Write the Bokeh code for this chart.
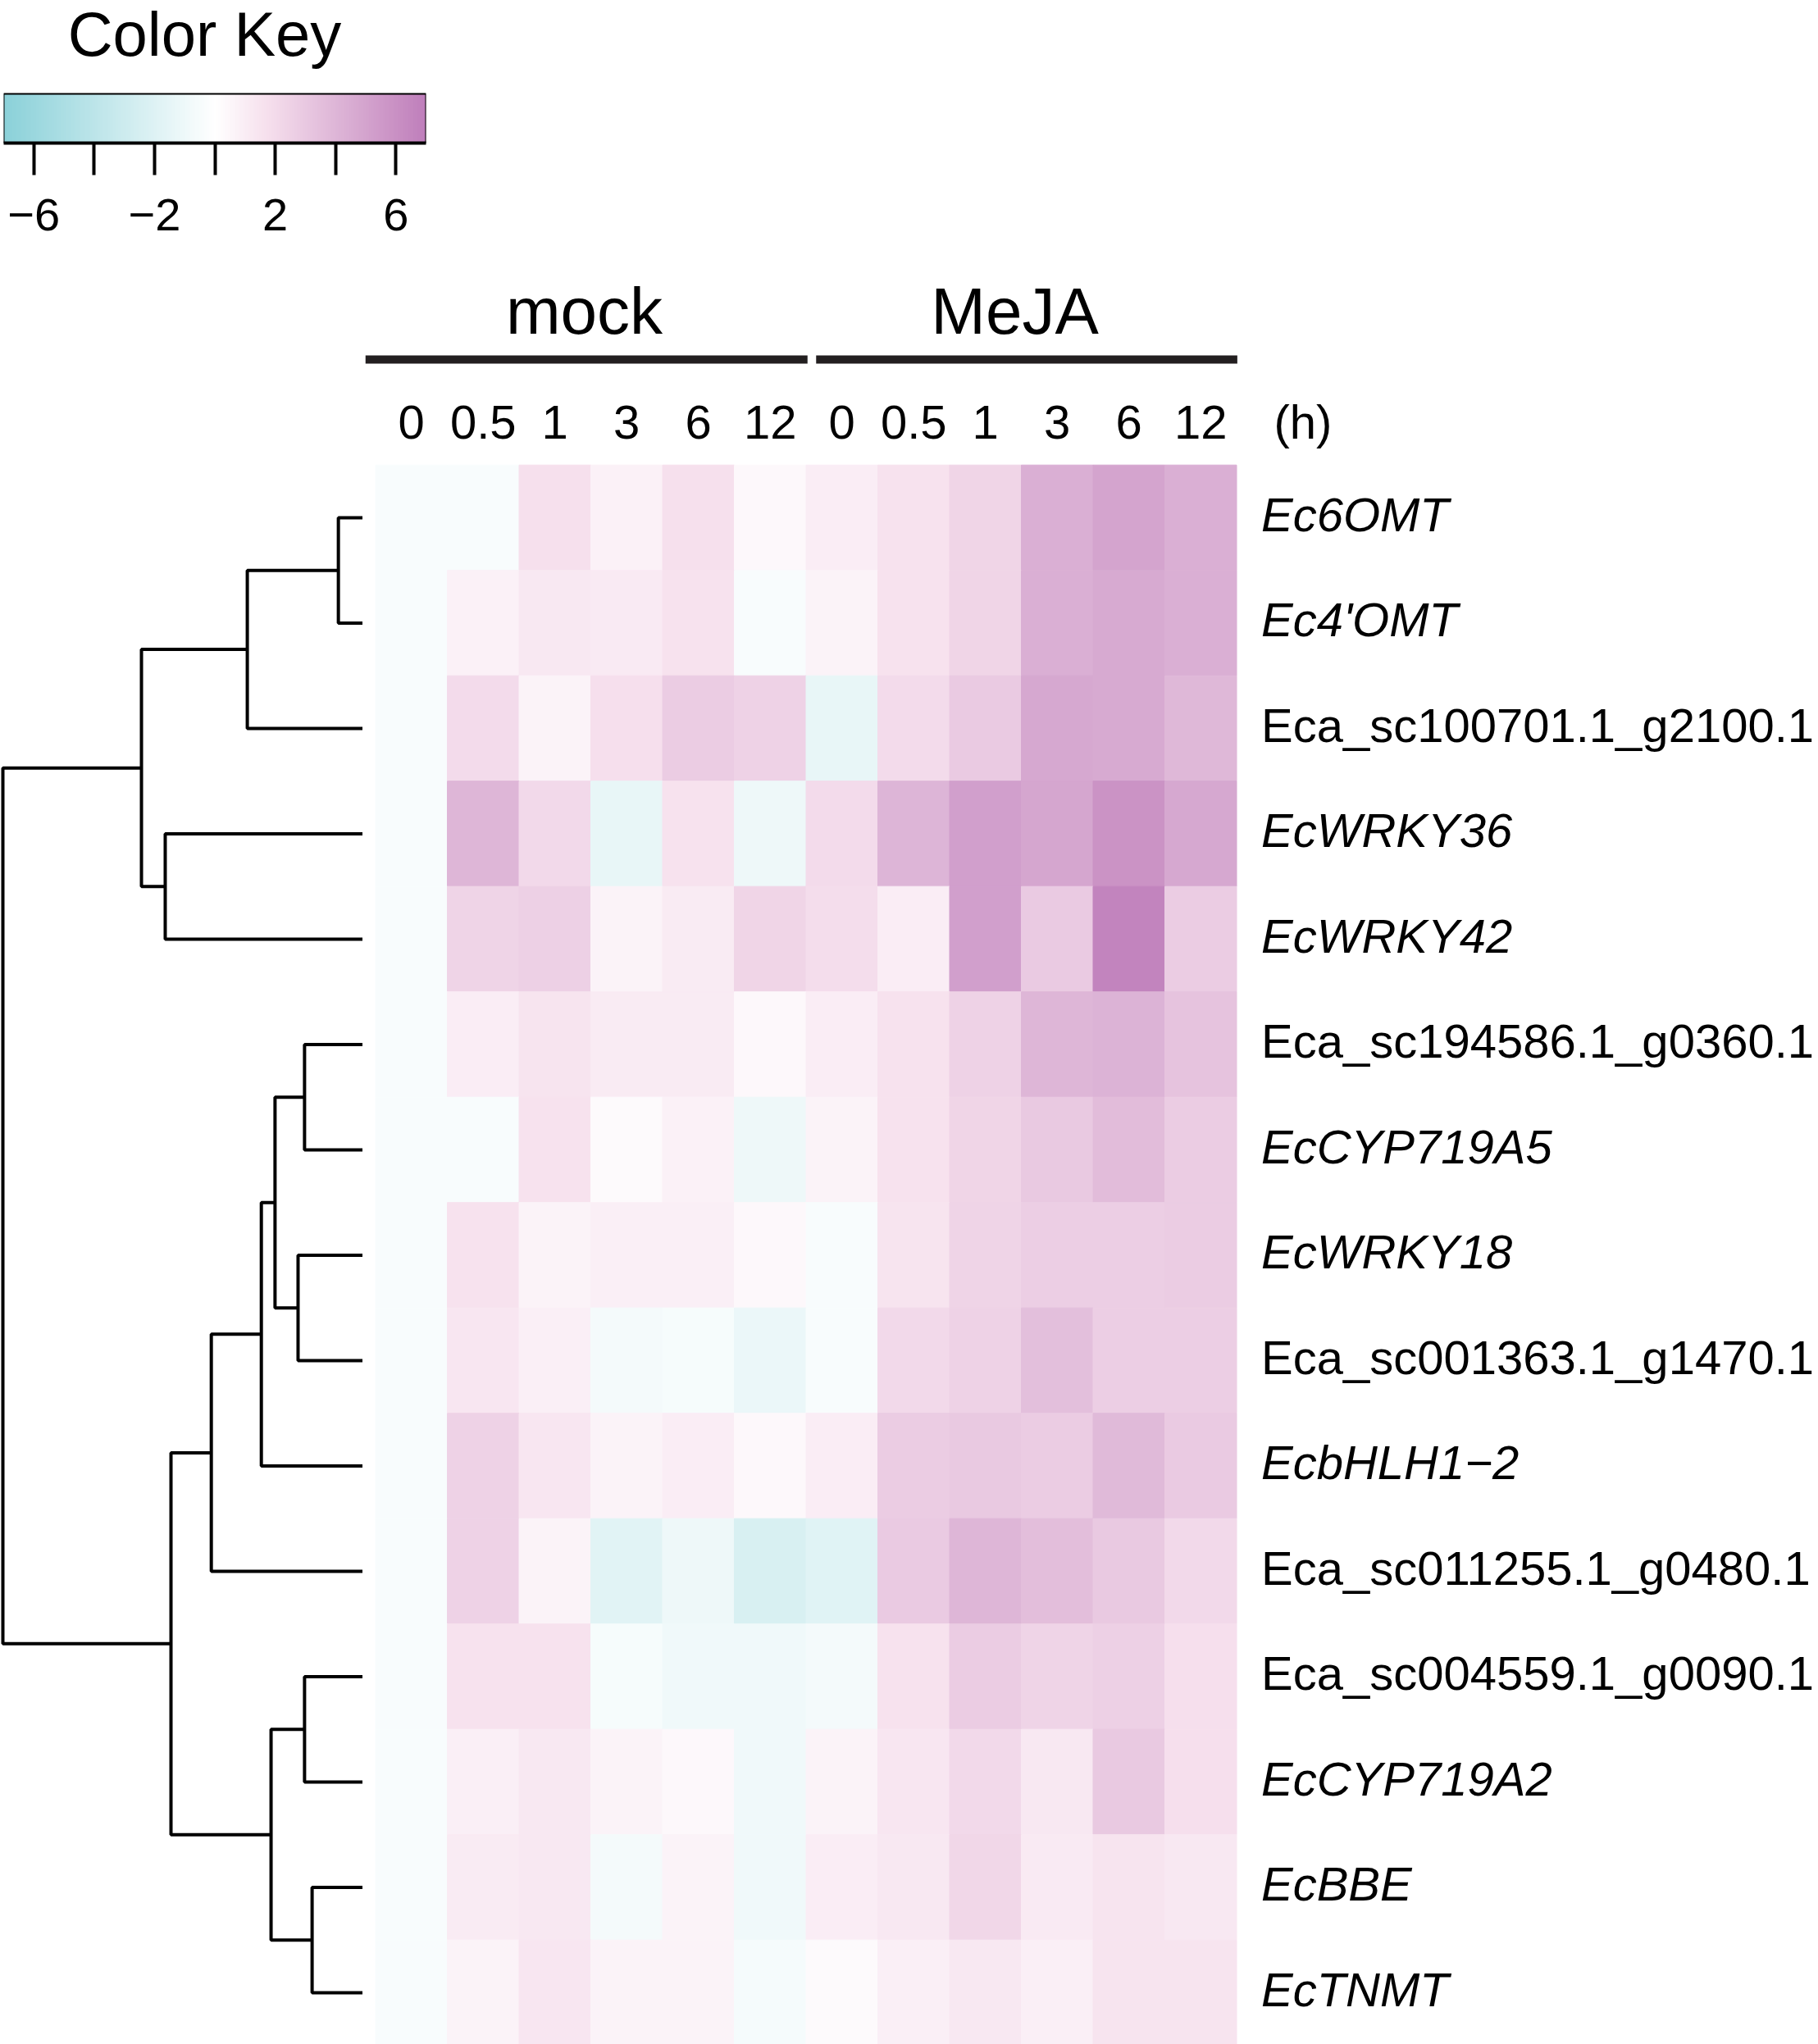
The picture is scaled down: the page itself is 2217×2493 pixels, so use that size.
import numpy as np
from bokeh.plotting import figure
from bokeh.models import LinearColorMapper, Range1d, ColumnDataSource, FixedTicker
from bokeh.layouts import column, row
from bokeh.embed import file_html
from bokeh.resources import INLINE
from bokeh.core.properties import value, field

# ---------------- data ----------------
genes = ["Ec6OMT", "Ec4'OMT", "Eca_sc100701.1_g2100.1", "EcWRKY36", "EcWRKY42",
         "Eca_sc194586.1_g0360.1", "EcCYP719A5", "EcWRKY18", "Eca_sc001363.1_g1470.1",
         "EcbHLH1\u22122", "Eca_sc011255.1_g0480.1", "Eca_sc004559.1_g0090.1",
         "EcCYP719A2", "EcBBE", "EcTNMT"]
gene_italic = [True, True, False, True, True, False, True, True, False, True,
               False, False, True, True, True]
groups = ["mock", "MeJA"]
times = ["0", "0.5", "1", "3", "6", "12"]
time_unit = "(h)"

# log2 fold change, columns: mock 0..12 h, MeJA 0..12 h
expr = [
    [-0.4, -0.4, 1.7, 0.8, 1.7, 0.4, 1.0, 1.6, 2.3, 4.4, 5.0, 4.4],
    [-0.4, 0.8, 1.3, 1.2, 1.6, -0.4, 0.7, 1.6, 2.3, 4.4, 4.7, 4.4],
    [-0.4, 2.0, 0.7, 1.8, 2.8, 2.5, -1.4, 2.0, 2.9, 4.8, 4.7, 3.9],
    [-0.4, 4.0, 2.1, -1.4, 1.6, -1.0, 2.0, 4.1, 5.2, 4.9, 5.9, 4.8],
    [-0.4, 2.4, 2.6, 0.7, 1.1, 2.3, 1.9, 1.0, 5.2, 2.9, 6.7, 2.8],
    [-0.4, 1.0, 1.5, 1.1, 1.1, 0.4, 1.0, 1.6, 2.5, 4.0, 4.2, 3.3],
    [-0.4, -0.4, 1.6, 0.3, 0.8, -1.0, 0.7, 1.6, 2.3, 3.0, 3.7, 2.8],
    [-0.4, 1.6, 0.7, 0.9, 0.9, 0.4, -0.4, 1.5, 2.4, 2.7, 2.7, 2.8],
    [-0.4, 1.4, 0.9, -0.7, -0.5, -1.2, -0.4, 2.1, 2.5, 3.5, 2.7, 2.7],
    [-0.4, 2.5, 1.4, 0.7, 1.0, 0.4, 1.0, 2.8, 3.0, 2.8, 3.8, 2.9],
    [-0.4, 2.5, 0.7, -1.8, -1.0, -2.3, -1.9, 2.9, 4.0, 3.6, 3.0, 2.1],
    [-0.4, 1.6, 1.6, -0.5, -0.9, -0.9, -0.7, 1.6, 2.8, 2.4, 2.6, 1.8],
    [-0.4, 0.9, 1.3, 0.7, 0.4, -0.9, 0.7, 1.4, 2.1, 1.3, 3.0, 1.8],
    [-0.4, 1.1, 1.3, -0.7, 0.7, -0.9, 1.0, 1.3, 2.2, 1.2, 1.5, 1.3],
    [-0.4, 0.7, 1.4, 0.7, 0.7, -0.6, 0.3, 0.9, 1.3, 0.9, 1.5, 1.5],
]

# row dendrogram: (child a, child b, height); leaves 0..14, new nodes 15..
merges = [
    (0, 1, 0.68), (15, 2, 3.21), (3, 4, 5.49), (16, 17, 6.15),
    (5, 6, 1.62), (7, 8, 1.80), (19, 20, 2.44), (21, 9, 2.82), (22, 10, 4.21),
    (11, 12, 1.62), (13, 14, 1.41), (24, 25, 2.55), (23, 26, 5.33),
    (18, 27, 10.0),
]

key_low, key_high = -7, 7
key_ticks = [-6, -4, -2, 0, 2, 4, 6]
key_tick_labels = {-6: "\u22126", -4: "", -2: "\u22122", 0: "", 2: "2", 4: "", 6: "6"}
key_stop_values = [-7, 0, 1.75, 7]
key_stop_colors = ["#8bd1d9", "#ffffff", "#f6e0ed", "#bf7fbb"]

# ---------------- styling / layout constants ----------------
FONT = "Liberation Sans"
CELL_W = 87.5          # px per column
CELL_H = 128.5         # px per row
KEY_H = 320            # height of colour-key block
HEAD_PX = 246.7        # px from top of heat frame to first row
HEAT_LEFT_PAD = 15.5   # px between dendrogram tips and heatmap
DEND_W = 442
HEAT_W = 1775
BODY_H = 2173
KEY_FRAME_W = 515
KEY_FRAME_H = 174
KEY_BAR_PX = 60
DEND_ROOT_PX = 3

# palette
def _rgb(h):
    return [int(h[i:i + 2], 16) for i in (1, 3, 5)]

stops = np.array([_rgb(c) for c in key_stop_colors], float)
grid = np.linspace(key_low, key_high, 256)
chans = [np.interp(grid, key_stop_values, stops[:, k]) for k in range(3)]
palette = ["#%02x%02x%02x" % tuple(int(round(ch[i])) for ch in chans) for i in range(256)]
mapper = LinearColorMapper(palette=palette, low=key_low, high=key_high)

n_rows = len(genes)
n_cols = len(groups) * len(times)

# ---------------- color key ----------------
key = figure(frame_width=KEY_FRAME_W, frame_height=KEY_FRAME_H,
             x_range=Range1d(key_low, key_high),
             y_range=Range1d(0, KEY_FRAME_H / KEY_BAR_PX),
             min_border_left=4, min_border_right=10, min_border_top=0,
             min_border_bottom=KEY_H - KEY_FRAME_H,
             y_axis_location=None, output_backend="svg", toolbar_location=None)
key.grid.visible = False
key.outline_line_color = None
key.image(image=[np.linspace(key_low, key_high, 600).reshape(1, -1)],
          x=key_low, y=0, dw=key_high - key_low, dh=1, color_mapper=mapper)
key.quad(left=[key_low], right=[key_high], bottom=[0], top=[1],
         fill_color=None, line_color="black", line_width=2)
key.text(x=[-0.34], y=[(KEY_FRAME_H - 40.5) / KEY_BAR_PX], text=["Color Key"],
         text_font=value(FONT), text_font_size="76px", text_align="center",
         text_baseline="middle", text_color="black")
ax = key.xaxis[0]
ax.ticker = FixedTicker(ticks=key_ticks)
ax.major_label_overrides = key_tick_labels
ax.major_tick_in = 0
ax.major_tick_out = 39
ax.major_tick_line_width = 4
ax.major_tick_line_color = "black"
ax.axis_line_width = 4
ax.axis_line_color = "black"
ax.minor_tick_line_color = None
ax.major_label_text_font = FONT
ax.major_label_text_font_size = "56px"
ax.major_label_text_color = "black"
ax.major_label_standoff = 29

# ---------------- heatmap ----------------
x_start = -HEAT_LEFT_PAD / CELL_W
y_end = -HEAD_PX / CELL_H
y_start = (BODY_H - HEAD_PX) / CELL_H
heat = figure(frame_width=HEAT_W, frame_height=BODY_H,
              x_range=Range1d(x_start, x_start + HEAT_W / CELL_W),
              y_range=Range1d(y_start, y_end),
              min_border=0, x_axis_location=None, y_axis_location=None,
              output_backend="svg", toolbar_location=None)
heat.grid.visible = False
heat.outline_line_color = None

L, R, T, B, V = [], [], [], [], []
for r in range(n_rows):
    for c in range(n_cols):
        L.append(c); R.append(c + 1); T.append(r); B.append(r + 1); V.append(expr[r][c])
hsrc = ColumnDataSource(dict(left=L, right=R, top=T, bottom=B, v=V))
heat.quad(left="left", right="right", top="top", bottom="bottom", source=hsrc,
          fill_color={"field": "v", "transform": mapper},
          line_color={"field": "v", "transform": mapper}, line_width=1)

# group headers
n_t = len(times)
g_centers = [gi * n_t + n_t / 2 for gi in range(len(groups))]
heat.text(x=g_centers, y=[-188.2 / CELL_H] * len(groups), text=groups,
          x_offset=-8,
          text_font=value(FONT), text_font_size="80px", text_align="center",
          text_baseline="middle", text_color="black")
line_pad = [(-0.14, 0.02), (0.14, 0.01)]
line_y = -128.7 / CELL_H
heat.segment(x0=[gi * n_t + line_pad[gi][0] for gi in range(len(groups))],
             x1=[(gi + 1) * n_t + line_pad[gi][1] for gi in range(len(groups))],
             y0=[line_y] * len(groups), y1=[line_y] * len(groups),
             line_width=10, line_color="#231f20", line_cap="butt")

# time labels
time_y = -52.7 / CELL_H
tx = [c + 0.5 for c in range(n_cols)]
heat.text(x=tx, y=[time_y] * n_cols, text=times * len(groups),
          text_font=value(FONT), text_font_size="58px", text_align="center",
          text_baseline="middle", text_color="black")
heat.text(x=[n_cols + 45.5 / CELL_W], y=[time_y], text=[time_unit],
          text_font=value(FONT), text_font_size="58px", text_align="left",
          text_baseline="middle", text_color="black")

# gene labels
lsrc = ColumnDataSource(dict(
    x=[n_cols + 30.0 / CELL_W] * n_rows,
    y=[r + 0.5 - 4.0 / CELL_H for r in range(n_rows)],
    t=genes,
    s=["italic" if it else "normal" for it in gene_italic]))
heat.text(x="x", y="y", text="t", source=lsrc, text_font=value(FONT),
          text_font_size="58px", text_font_style=field("s"), text_align="left",
          text_baseline="middle", text_color="black")

# ---------------- dendrogram ----------------
root_h = max(m[2] for m in merges)
px_per_unit = (DEND_W - DEND_ROOT_PX) / root_h
dend = figure(frame_width=DEND_W, frame_height=BODY_H,
              x_range=Range1d(DEND_W / px_per_unit, 0), y_range=heat.y_range,
              min_border=0, x_axis_location=None, y_axis_location=None,
              output_backend="svg", toolbar_location=None)
dend.grid.visible = False
dend.outline_line_color = None

node_y = {i: i + 0.5 for i in range(n_rows)}
node_h = {i: 0.0 for i in range(n_rows)}
xs, ys = [], []
for k, (a, b, h) in enumerate(merges):
    n = n_rows + k
    node_y[n] = (node_y[a] + node_y[b]) / 2
    node_h[n] = h
    xs.append([node_h[a], h, h, node_h[b]])
    ys.append([node_y[a], node_y[a], node_y[b], node_y[b]])
dend.multi_line(xs=xs, ys=ys, line_color="black", line_width=4)

layout = column(key, row(dend, heat))
open("out.html", "w").write(file_html(layout, INLINE))
